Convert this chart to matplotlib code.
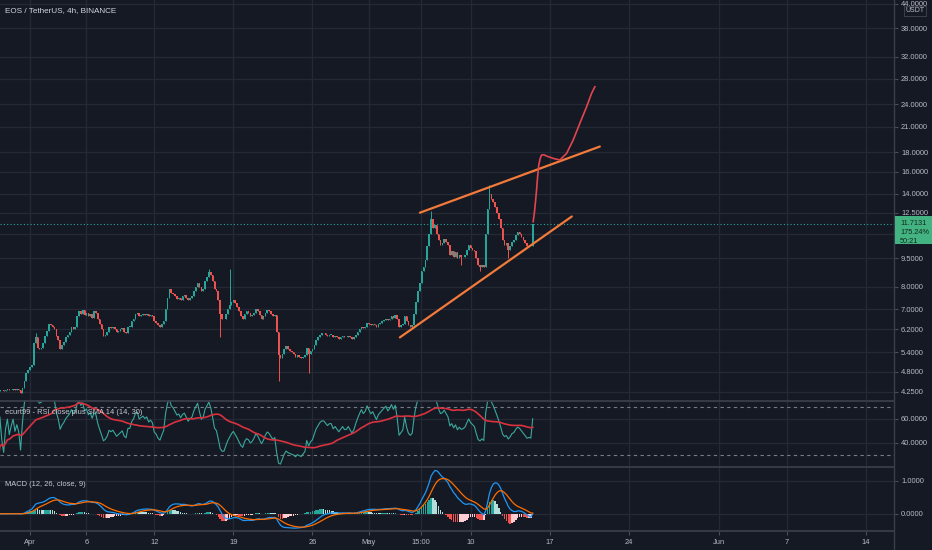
import numpy as np
import pandas as pd
import matplotlib
matplotlib.use("Agg")
import matplotlib.pyplot as plt
from matplotlib.patches import Rectangle
from matplotlib.lines import Line2D

# ---------------- data ----------------
start_time = "2021-03-29 00:00"
bar_freq = "4h"
close_4h = [
    # Mar 29
    4.30, 4.28, 4.31, 4.29, 4.27, 4.30,
    # Mar 30
    4.32, 4.29, 4.31, 4.33, 4.30, 4.32,
    # Mar 31
    4.30, 4.22, 4.35, 4.55, 4.75, 4.85,
    # Apr 1
    4.95, 5.00, 5.70, 5.90, 5.55, 5.50,
    # Apr 2
    5.55, 5.70, 5.95, 6.15, 6.40, 6.35,
    # Apr 3
    6.30, 6.20, 5.95, 5.80, 5.50, 5.65,
    # Apr 4
    5.75, 5.90, 6.00, 6.10, 6.30, 6.20,
    # Apr 5
    6.30, 6.70, 6.90, 6.80, 6.95, 6.75,
    # Apr 6
    6.85, 6.70, 6.80, 6.65, 6.90, 6.85,
    # Apr 7
    6.60, 6.40, 6.20, 5.95, 6.00, 6.10,
    # Apr 8
    6.30, 6.25, 6.30, 6.20, 6.10, 6.15,
    # Apr 9
    6.20, 6.25, 6.10, 6.05, 6.30, 6.30,
    # Apr 10
    6.50, 6.60, 6.80, 6.85, 6.70, 6.75,
    # Apr 11
    6.80, 6.75, 6.80, 6.70, 6.75, 6.70,
    # Apr 12
    6.50, 6.45, 6.35, 6.30, 6.40, 6.50,
    # Apr 13
    7.00, 7.50, 7.90, 7.70, 7.65, 7.55,
    # Apr 14
    7.45, 7.50, 7.40, 7.55, 7.60, 7.50,
    # Apr 15
    7.40, 7.50, 7.55, 7.80, 8.00, 8.20,
    # Apr 16
    8.00, 7.80, 7.90, 8.30, 8.50, 8.75,
    # Apr 17
    8.60, 8.30, 7.90, 7.80, 7.40, 6.80,
    # Apr 18
    6.60, 6.60, 6.80, 7.00, 7.15, 7.30,
    # Apr 19
    7.40, 7.25, 7.10, 6.90, 6.70, 6.60,
    # Apr 20
    6.80, 6.90, 6.85, 6.70, 6.75, 6.85,
    # Apr 21
    7.00, 6.90, 6.75, 6.60, 6.70, 6.85,
    # Apr 22
    6.95, 6.90, 6.80, 6.70, 6.75, 6.10,
    # Apr 23
    5.30, 5.20, 5.35, 5.50, 5.60, 5.50,
    # Apr 24
    5.45, 5.40, 5.35, 5.25, 5.30, 5.25,
    # Apr 25
    5.20, 5.25, 5.30, 5.55, 5.35, 5.45,
    # Apr 26
    5.50, 5.65, 5.80, 5.90, 6.00, 6.05,
    # Apr 27
    6.05, 6.00, 5.95, 6.00, 6.00, 5.90,
    # Apr 28
    5.95, 5.90, 5.85, 5.90, 5.95, 5.90,
    # Apr 29
    5.90, 5.95, 5.90, 5.85, 5.90, 6.00,
    # Apr 30
    6.10, 6.20, 6.30, 6.25, 6.30, 6.45,
    # May 1
    6.40, 6.35, 6.40, 6.35, 6.30, 6.40,
    # May 2
    6.45, 6.50, 6.55, 6.60, 6.55, 6.60,
    # May 3
    6.70, 6.65, 6.75, 6.60, 6.30, 6.35,
    # May 4
    6.40, 6.70, 6.50, 6.35, 6.30, 6.35,
    # May 5
    6.80, 7.30, 7.80, 8.20, 8.80, 9.00,
    # May 6
    9.40, 10.20, 11.00, 12.00, 11.40, 11.60,
    # May 7
    11.00, 10.60, 10.30, 10.40, 10.70, 10.50,
    # May 8
    10.30, 9.70, 9.90, 9.60, 9.85, 9.50,
    # May 9
    9.70, 9.55, 9.60, 9.70, 10.00, 10.30,
    # May 10
    10.10, 10.00, 9.90, 9.50, 9.10, 9.00,
    # May 11
    9.10, 9.00, 11.00, 12.80, 14.00, 13.60,
    # May 12
    13.30, 12.90, 12.50, 12.00, 11.40, 10.60,
    # May 13
    10.30, 10.40, 10.00, 10.20, 10.50, 10.60,
    # May 14
    10.90, 11.10, 11.00, 10.80, 10.60, 10.40,
    # May 15
    10.20, 10.25, 10.20, 11.7131,
]
first_open = 4.29
wick_highs = {"2021-04-01 12:00": 6.05, "2021-04-16 20:00": 8.90,
              "2021-04-18 16:00": 8.90, "2021-05-06 12:00": 12.60,
              "2021-05-11 16:00": 14.80}
wick_lows = {"2021-04-17 20:00": 5.90, "2021-04-23 00:00": 4.55,
             "2021-04-25 16:00": 4.75, "2021-05-10 20:00": 8.80,
             "2021-05-13 08:00": 9.50, "2021-05-09 04:00": 9.10}

last_price = 11.7131
change_pct = "175.24%"
countdown = "50:21"

# user drawings (x in days since 2021-04-01 00:00)
upper_trend_days = [34.51, 50.44]
upper_trend_price = [12.50, 18.62]
lower_trend_days = [32.74, 47.96]
lower_trend_price = [5.90, 12.22]
proj_days = [44.54, 44.66, 44.75, 44.84, 44.93, 45.03, 45.15, 45.28, 45.49,
             45.73, 46.31, 46.90, 47.50, 48.08, 48.67, 49.27, 49.71, 50.00]
proj_price = [11.84, 12.60, 13.40, 14.33, 15.50, 16.60, 17.30, 17.69, 17.72,
              17.58, 17.34, 17.17, 17.87, 19.36, 21.41, 23.66, 25.65, 26.69]

price_ticks = [44, 38, 32, 28, 24, 21, 18, 16, 14, 12.5, 11, 9.5, 8, 7, 6.2,
               5.4, 4.8, 4.25]
hidden_price_labels = [11]          # covered by the last-price marker
rsi_ticks = [60, 40]
rsi_bands = [70, 30]
macd_ticks = [1.0, 0.0]
date_ticks = ["2021-04-01 00:00", "2021-04-06 00:00", "2021-04-12 00:00",
              "2021-04-19 00:00", "2021-04-26 00:00", "2021-05-01 00:00",
              "2021-05-05 15:00", "2021-05-10 00:00", "2021-05-17 00:00",
              "2021-05-24 00:00", "2021-06-01 00:00", "2021-06-07 00:00",
              "2021-06-14 00:00"]
date_labels = ["Apr", "6", "12", "19", "26", "May", "15:00", "10", "17",
               "24", "Jun", "7", "14"]

title = "EOS / TetherUS, 4h, BINANCE"
rsi_title = "ecurt99 - RSI close plus SMA 14 (14, 30)"
macd_title = "MACD (12, 26, close, 9)"

# ---------------- styles ----------------
BG = "#151924"
GRID = "#252935"
SEP = "#3a3e4a"
TXT = "#b8bbc4"
UP = "#26a69a"
DN = "#ef5350"
FONT = ["Liberation Sans", "DejaVu Sans"]
plt.rcParams["font.family"] = FONT

W, H = 932, 550
fig = plt.figure(figsize=(W / 100, H / 100), dpi=100, facecolor=BG)
plot_w = 894 / W
ax_p = fig.add_axes([0, 150 / H, plot_w, 400 / H])
ax_r = fig.add_axes([0, 84 / H, plot_w, 66 / H])
ax_m = fig.add_axes([0, 19 / H, plot_w, 65 / H])

t0 = pd.Timestamp("2021-04-01")
day = pd.Timedelta("1D")
times = pd.date_range(start_time, periods=len(close_4h), freq=bar_freq)
x = ((times - t0) / day).to_numpy()
c = np.array(close_4h)
o = np.r_[first_open, c[:-1]]
hi = np.maximum(o, c)
lo = np.minimum(o, c)
for k, v in wick_highs.items():
    i = times.get_loc(pd.Timestamp(k))
    hi[i] = max(hi[i], v)
for k, v in wick_lows.items():
    i = times.get_loc(pd.Timestamp(k))
    lo[i] = min(lo[i], v)

xlim = (-2.656, 76.48)
tick_x = ((pd.to_datetime(date_ticks, format="%Y-%m-%d %H:%M") - t0) / day).to_numpy()

for ax in (ax_p, ax_r, ax_m):
    ax.set_facecolor(BG)
    ax.set_xlim(*xlim)
    for s in ax.spines.values():
        s.set_visible(False)
    ax.yaxis.tick_right()
    ax.set_xticks(tick_x)
    ax.grid(True, color=GRID, lw=0.9)
    ax.set_axisbelow(True)
    ax.tick_params(axis="y", direction="out", length=3, color="#4a4e59",
                   labelcolor=TXT, labelsize=5.4, pad=2)
    ax.tick_params(axis="x", length=0, labelbottom=False)

# ---- price panel ----
ax_p.set_yscale("log")
ax_p.set_ylim(4.047, 45.0)
ax_p.set_yticks(price_ticks)
ax_p.set_yticklabels(["" if v in hidden_price_labels else f"{v:.4f}"
                      for v in price_ticks])
ax_p.yaxis.set_minor_locator(matplotlib.ticker.NullLocator())

col = np.where(c >= o, UP, DN)
ax_p.vlines(x, lo, hi, colors=col, lw=0.7, zorder=3)
body_h = np.maximum(np.abs(c - o), 0.004)
ax_p.bar(x, body_h, bottom=np.minimum(o, c), width=0.14, color=col, lw=0,
         zorder=4)
ax_p.axhline(last_price, color=UP, lw=0.8, ls=(0, (1, 2)), zorder=2)
ax_p.plot(upper_trend_days, upper_trend_price, color="#f27a3a", lw=1.6,
          zorder=5, solid_capstyle="round")
ax_p.plot(lower_trend_days, lower_trend_price, color="#f27a3a", lw=1.6,
          zorder=5, solid_capstyle="round")
ax_p.plot(proj_days, proj_price, color="#e2454f", lw=1.2, zorder=6)

# ---- RSI panel ----
cs = pd.Series(c)
delta = cs.diff().fillna(0)
gain = delta.clip(lower=0).ewm(alpha=1 / 14, adjust=False).mean()
loss = (-delta.clip(upper=0)).ewm(alpha=1 / 14, adjust=False).mean()
tot = gain + loss
rsi = (100 * gain / tot.where(tot > 0)).fillna(50)
rsi_sma = rsi.rolling(30, min_periods=1).mean()
ax_r.set_ylim(20.8, 75.8)
ax_r.set_yticks(rsi_ticks)
ax_r.set_yticklabels([f"{v:.4f}" for v in rsi_ticks])
for b in rsi_bands:
    ax_r.axhline(b, color="#787b86", lw=0.8, ls=(0, (3, 3)), zorder=2)
ax_r.plot(x, rsi, color="#3aa79c", lw=0.8, zorder=4)
ax_r.plot(x, rsi_sma, color="#d8323f", lw=1.2, zorder=5)

# ---- MACD panel ----
ema12 = cs.ewm(span=12, adjust=False).mean()
ema26 = cs.ewm(span=26, adjust=False).mean()
macd = ema12 - ema26
signal = macd.ewm(span=9, adjust=False).mean()
hist = (macd - signal).to_numpy()
prev = np.r_[0, hist[:-1]]
hcol = np.where(hist >= 0, np.where(hist > prev, "#26a69a", "#b2dfdb"),
                np.where(hist > prev, "#ffcdd2", "#ef5350"))
ax_m.set_ylim(-0.526, 1.455)
ax_m.set_yticks(macd_ticks)
ax_m.set_yticklabels([f"{v:.4f}" for v in macd_ticks])
ax_m.bar(x, hist, width=0.13, color=hcol, lw=0, zorder=3)
ax_m.plot(x, macd, color="#2196f3", lw=0.9, zorder=4)
ax_m.plot(x, signal, color="#ff6d00", lw=0.9, zorder=5)
ax_m.tick_params(axis="x", length=3, direction="out", color="#4a4e59",
                 labelbottom=True, labelcolor=TXT, labelsize=5.4, pad=3)
ax_m.set_xticklabels(date_labels)

# ---- separators / frame ----
for yy in (400.5, 466.5, 531):
    fig.add_artist(Line2D([0, plot_w], [1 - yy / H] * 2, color=SEP, lw=1.3,
                          transform=fig.transFigure))
fig.add_artist(Line2D([plot_w] * 2, [0, 1], color=SEP, lw=1.0,
                      transform=fig.transFigure))

# ---- texts ----
fig.text(5 / W, 1 - 11 / H, title, color="#d1d4dc", fontsize=5.9,
         va="center", ha="left")
fig.text(5 / W, 1 - 413 / H, rsi_title, color="#c7cad2", fontsize=5.4,
         va="center", ha="left")
fig.text(5 / W, 1 - 484 / H, macd_title, color="#c7cad2", fontsize=5.4,
         va="center", ha="left")
fig.text(915 / W, 1 - 11 / H, "USDT", color=TXT, fontsize=5.0, va="center",
         ha="center", bbox=dict(boxstyle="square,pad=0.2", fc=BG,
                                ec="#434651", lw=0.6))

# current price box
fig.canvas.draw()
y_disp = ax_p.transData.transform((0, last_price))[1]
box_top = y_disp + 8
box_bot = y_disp - 20
fig.add_artist(Rectangle((894.5 / W, box_bot / H), 37 / W, (box_top - box_bot) / H,
                         transform=fig.transFigure, fc="#43b382", ec="none",
                         zorder=10))
for k, s in enumerate([f"{last_price:.4f}", change_pct, countdown]):
    fig.text(900 / W, (y_disp - 9 * k) / H, s, color="#10291d", fontsize=5.3,
             va="center", ha="left", zorder=11)

fig.savefig("out.png", dpi=100, facecolor=BG)
